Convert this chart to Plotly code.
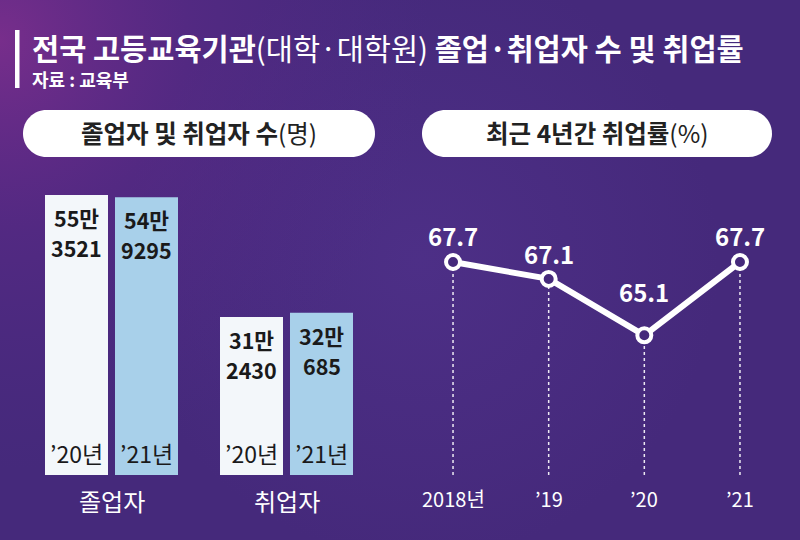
import base64
import plotly.graph_objects as go

W, H = 800, 540
FONT = "Noto Sans CJK KR"
BG = "#45297b"

# ---------------- data ----------------
title_text = "<b>전국 고등교육기관</b>(대학·대학원)<b> 졸업·취업자 수 및 취업률</b>"
source_text = "<b>자료 : 교육부</b>"
left_panel_title = "<b>졸업자 및 취업자 수</b>(명)"
right_panel_title = "<b>최근 4년간 취업률</b>(%)"

bar_groups = ["졸업자", "취업자"]
bar_years = ["’20년", "’21년"]
values_2020 = [553521, 312430]
values_2021 = [549295, 320685]

rate_labels = ["2018년", "’19", "’20", "’21"]
rates = [67.7, 67.1, 65.1, 67.7]

# ---------------- helpers ----------------
def px(x):
    return x / W

def py(y):
    return 1 - y / H

def pill_path(x0, y0, x1, y1):
    r = (y1 - y0) / 2
    k = 0.5523 * r
    pts = [
        ("M", [(x0 + r, y0)]),
        ("L", [(x1 - r, y0)]),
        ("C", [(x1 - r + k, y0), (x1, y0 + r - k), (x1, y0 + r)]),
        ("C", [(x1, y0 + r + k), (x1 - r + k, y1), (x1 - r, y1)]),
        ("L", [(x0 + r, y1)]),
        ("C", [(x0 + r - k, y1), (x0, y0 + r + k), (x0, y0 + r)]),
        ("C", [(x0, y0 + r - k), (x0 + r - k, y0), (x0 + r, y0)]),
    ]
    s = ""
    for cmd, ps in pts:
        s += cmd + " " + " ".join(f"{px(a):.5f},{py(b):.5f}" for a, b in ps) + " "
    return s + "Z"

# background gradient (svg data uri)
svg = f'''<svg xmlns="http://www.w3.org/2000/svg" width="{W}" height="{H}" viewBox="0 0 {W} {H}">
<defs>
<radialGradient id="g" gradientUnits="userSpaceOnUse" cx="0" cy="40" r="430">
<stop offset="0" stop-color="#7a2e8c" stop-opacity="0.95"/>
<stop offset="0.45" stop-color="#62298a" stop-opacity="0.45"/>
<stop offset="1" stop-color="#55298a" stop-opacity="0"/>
</radialGradient>
<radialGradient id="h" gradientUnits="userSpaceOnUse" cx="420" cy="260" r="300">
<stop offset="0" stop-color="#553592" stop-opacity="0.5"/>
<stop offset="1" stop-color="#553592" stop-opacity="0"/>
</radialGradient>
</defs>
<rect width="{W}" height="{H}" fill="{BG}"/>
<rect width="{W}" height="{H}" fill="url(#h)"/>
<rect width="{W}" height="{H}" fill="url(#g)"/>
</svg>'''
bg_uri = "data:image/svg+xml;base64," + base64.b64encode(svg.encode()).decode()

# ---------------- geometry ----------------
PLOT_BOTTOM = 475
PLOT_TOP = 171.4
ydom = [py(PLOT_BOTTOM), py(PLOT_TOP)]
BAR_YMAX = 553521 * (PLOT_BOTTOM - PLOT_TOP) / 280.0
RATE_PX = 28.2
RATE_YMIN = 67.7 - (PLOT_BOTTOM - 262) / RATE_PX
RATE_YMAX = 67.7 + (262 - PLOT_TOP) / RATE_PX

fig = go.Figure()

for vals, col in ((values_2020, "#f3f7fa"), (values_2021, "#a8d0ea")):
    fig.add_trace(go.Bar(
        x=bar_groups, y=vals,
        marker=dict(color=col, line=dict(width=0)),
        xaxis="x", yaxis="y", hoverinfo="skip",
    ))

fig.add_trace(go.Scatter(
    x=rate_labels, y=rates, mode="lines+markers",
    line=dict(color="white", width=6),
    marker=dict(size=14, color=BG, line=dict(color="white", width=4)),
    xaxis="x2", yaxis="y2", hoverinfo="skip", cliponaxis=False,
))

annotations = []
shapes = []

# title block
shapes.append(dict(type="rect", xref="paper", yref="paper",
                   x0=px(15), x1=px(19.5), y0=py(88), y1=py(30),
                   fillcolor="white", line=dict(width=0), layer="above"))
annotations.append(dict(xref="paper", yref="paper", x=px(30), y=py(47),
                        xanchor="left", yanchor="middle", showarrow=False,
                        text=title_text, font=dict(family=FONT, size=29.5, color="white")))
annotations.append(dict(xref="paper", yref="paper", x=px(30), y=py(79),
                        xanchor="left", yanchor="middle", showarrow=False,
                        text=source_text, font=dict(family=FONT, size=18, color="white")))

# pills
for (x0, x1, txt) in [(23, 375, left_panel_title), (422, 772, right_panel_title)]:
    shapes.append(dict(type="path", xref="paper", yref="paper",
                       path=pill_path(x0, 110, x1, 157),
                       fillcolor="white", line=dict(width=0), layer="above"))
    annotations.append(dict(xref="paper", yref="paper", x=px((x0 + x1) / 2), y=py(133),
                            xanchor="center", yanchor="middle", showarrow=False,
                            text=txt, font=dict(family=FONT, size=24.5, color="#222222")))

# value labels (two lines), year labels inside bars, group labels
for i, g in enumerate(bar_groups):
    for vals, yl, sh in zip((values_2020, values_2021), bar_years, (-35, 35)):
        v = vals[i]
        for line_txt, ysh in ((f"<b>{v // 10000}만</b>", -5), (f"<b>{v % 10000}</b>", -35)):
            annotations.append(dict(xref="x", yref="y", x=g, y=v, xshift=sh, yshift=ysh,
                                    xanchor="center", yanchor="top", showarrow=False,
                                    text=line_txt,
                                    font=dict(family=FONT, size=21.5, color="#1a1a1a")))
        annotations.append(dict(xref="x", yref="y", x=g, y=0, xshift=sh, yshift=22,
                                xanchor="center", yanchor="middle", showarrow=False,
                                text=yl, font=dict(family=FONT, size=23, color="#1a1a1a")))
    annotations.append(dict(xref="x", yref="paper", x=g, y=py(500),
                            xanchor="center", yanchor="middle", showarrow=False,
                            text=g, font=dict(family=FONT, size=24, color="white")))

# line chart labels, dotted guides
label_shift = [7, 6, 24, 7]
for lab, r, s in zip(rate_labels, rates, label_shift):
    shapes.append(dict(type="line", xref="x2", yref="y2", x0=lab, x1=lab,
                       y0=RATE_YMIN, y1=r, layer="below",
                       line=dict(color="rgba(255,255,255,0.9)", width=1.5, dash="dot")))
    annotations.append(dict(xref="x2", yref="y2", x=lab, y=r, yshift=s,
                            xanchor="center", yanchor="bottom", showarrow=False,
                            text=f"<b>{r:.1f}</b>", font=dict(family=FONT, size=24, color="white")))
    annotations.append(dict(xref="x2", yref="paper", x=lab, y=py(498),
                            xanchor="center", yanchor="middle", showarrow=False,
                            text=lab, font=dict(family=FONT, size=20, color="white")))

axis_common = dict(showgrid=False, zeroline=False, showline=False, ticks="",
                   showticklabels=False, fixedrange=True)

fig.update_layout(
    width=W, height=H, margin=dict(l=0, r=0, t=0, b=0),
    paper_bgcolor=BG, plot_bgcolor="rgba(0,0,0,0)",
    showlegend=False, barmode="group", bargap=0.2, bargroupgap=0.1,
    font=dict(family=FONT),
    xaxis=dict(domain=[px(24), px(374)], range=[-0.5, 1.5], type="category",
               anchor="y", **axis_common),
    yaxis=dict(domain=ydom, range=[0, BAR_YMAX], anchor="x", **axis_common),
    xaxis2=dict(domain=[px(405.2), px(787.8)], range=[-0.5, 3.5], type="category",
                anchor="y2", **axis_common),
    yaxis2=dict(domain=ydom, range=[RATE_YMIN, RATE_YMAX], anchor="x2", **axis_common),
    images=[dict(source=bg_uri, xref="paper", yref="paper", x=0, y=1,
                 sizex=1, sizey=1, xanchor="left", yanchor="top",
                 sizing="stretch", layer="below")],
    shapes=shapes, annotations=annotations,
)

fig.write_html("out.html", include_plotlyjs=True, full_html=True,
               config={"displayModeBar": False, "staticPlot": True},
               post_script="document.body.style.margin='0';document.body.style.overflow='hidden';")
